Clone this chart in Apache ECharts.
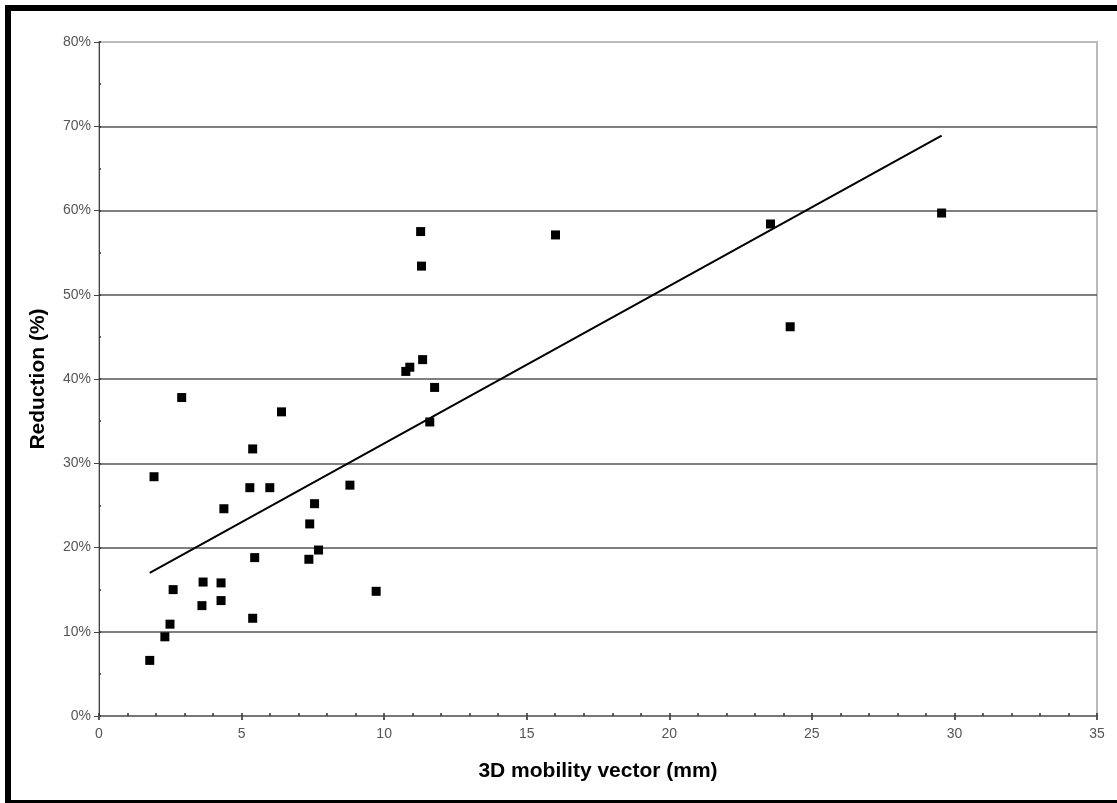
<!DOCTYPE html>
<html>
<head>
<meta charset="utf-8">
<script src="https://cdn.jsdelivr.net/npm/echarts@6/dist/echarts.min.js"></script>
<style>
  html, body { margin: 0; padding: 0; background: #fff; }
  #chart { width: 1117px; height: 803px; }
</style>
</head>
<body>
<div id="chart"></div>
<script>
// 3D mobility vector (mm) of each case
var mobilityX = [1.93, 2.90, 6.40, 5.39, 5.29, 5.99, 4.38, 7.56, 7.39, 8.80,
  7.70, 7.36, 5.46, 3.65, 4.28, 2.60, 3.61, 4.28, 5.39, 2.49,
  2.31, 1.78, 9.72, 11.77, 11.60, 10.76, 10.90, 11.35, 11.28, 11.31,
  16.01, 23.55, 29.55, 24.24];
// reduction (%) for the same cases
var reductionY = [28.4, 37.8, 36.1, 31.7, 27.1, 27.1, 24.6, 25.2, 22.8, 27.4,
  19.7, 18.6, 18.8, 15.9, 15.8, 15.0, 13.1, 13.7, 11.6, 10.9,
  9.4, 6.6, 14.8, 39.0, 34.9, 40.9, 41.4, 42.3, 57.5, 53.4,
  57.1, 58.4, 59.7, 46.2];
// trend line end points as drawn
var trendX = [1.78, 29.55];
var trendY = [17.0, 68.9];

var xTicks = [0, 5, 10, 15, 20, 25, 30, 35];
var yTicks = [0, 10, 20, 30, 40, 50, 60, 70, 80];

var pts = mobilityX.map(function(x, i) { return [x, reductionY[i]]; });
var trend = trendX.map(function(x, i) { return [x, trendY[i]]; });

var labelFont = { color: '#555', fontSize: 14, fontFamily: 'Liberation Sans, Arial, sans-serif' };
var nameFont = { color: '#000', fontSize: 21, fontWeight: 'bold', fontFamily: 'Liberation Sans, Arial, sans-serif' };

var myChart = echarts.init(document.getElementById('chart'));
var option = {
  backgroundColor: '#fff',
  animation: false,
  grid: {
    left: 99, right: 20, top: 42, bottom: 87,
    show: true, borderColor: '#bbb', borderWidth: 2, backgroundColor: '#fff'
  },
  graphic: [
    // frame round the picture
    { type: 'rect', shape: { x: 5, y: 5, width: 1112, height: 6 }, style: { fill: '#000' } },
    { type: 'rect', shape: { x: 5, y: 5, width: 6, height: 798 }, style: { fill: '#000' } },
    { type: 'rect', shape: { x: 5, y: 800, width: 1112, height: 3 }, style: { fill: '#000' } }
  ],
  xAxis: [{
    type: 'value', min: xTicks[0], max: xTicks[xTicks.length - 1], interval: 5,
    name: '3D mobility vector (mm)', nameLocation: 'middle', nameGap: 45,
    nameTextStyle: nameFont,
    axisLine: { lineStyle: { color: '#777', width: 2 } },
    axisTick: { show: true, length: 4, lineStyle: { color: '#555', width: 2 } },
    axisLabel: Object.assign({ margin: 11 }, labelFont),
    splitLine: { show: false }
  }, {
    // minor ticks on the inside
    type: 'value', position: 'bottom', min: 0, max: 35, interval: 1,
    axisLine: { show: false },
    axisTick: { show: true, inside: true, length: 3, lineStyle: { color: '#333', width: 1.5 } },
    axisLabel: { show: false },
    splitLine: { show: false }
  }],
  yAxis: [{
    type: 'value', min: yTicks[0], max: yTicks[yTicks.length - 1], interval: 10,
    name: 'Reduction (%)', nameLocation: 'middle', nameGap: 50,
    nameTextStyle: nameFont,
    axisLine: { show: true, lineStyle: { color: '#444', width: 1 } },
    axisTick: { show: true, length: 5, lineStyle: { color: '#444' } },
    axisLabel: Object.assign({ margin: 8, formatter: '{value}%' }, labelFont),
    splitLine: { show: true, showMaxLine: false, lineStyle: { color: '#555', width: 1.5 } }
  }, {
    type: 'value', position: 'left', min: 0, max: 80, interval: 5,
    axisLine: { show: false },
    axisTick: { show: true, inside: true, length: 2, lineStyle: { color: '#333', width: 1.5 } },
    axisLabel: { show: false },
    splitLine: { show: false }
  }],
  series: [{
    name: 'trend', type: 'line', data: trend, showSymbol: false, symbol: 'none',
    lineStyle: { color: '#000', width: 2 }, z: 3
  }, {
    name: 'cases', type: 'scatter', data: pts, symbol: 'rect', symbolSize: 9,
    itemStyle: { color: '#000', opacity: 1 }, z: 4
  }]
};
myChart.setOption(option);
</script>
</body>
</html>
